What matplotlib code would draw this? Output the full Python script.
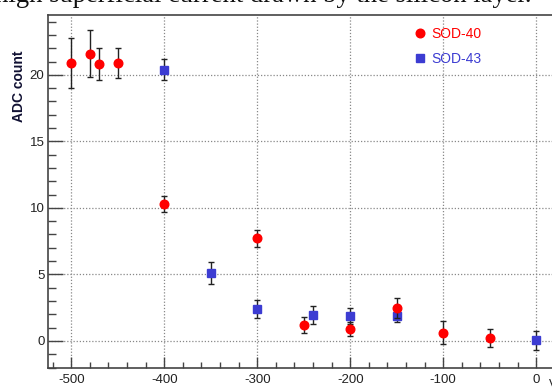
import matplotlib
matplotlib.use('Agg')
from matplotlib import pyplot as plt
from matplotlib.lines import Line2D
from matplotlib.ticker import MultipleLocator

plt.rcParams['font.family'] = ['Liberation Sans', 'DejaVu Sans']
plt.rcParams['axes.unicode_minus'] = False

# SOD-40 (red circles)
sod40_x = [-500, -480, -470, -450, -400, -300, -250, -200, -150, -100, -50]
sod40_y = [20.9, 21.6, 20.8, 20.9, 10.3, 7.7, 1.2, 0.9, 2.5, 0.6, 0.2]
sod40_err = [1.9, 1.75, 1.2, 1.15, 0.62, 0.67, 0.58, 0.5, 0.75, 0.87, 0.68]

# SOD-43 (blue squares)
sod43_x = [-400, -350, -300, -240, -200, -150, 0]
sod43_y = [20.4, 5.1, 2.4, 1.95, 1.9, 1.9, 0.05]
sod43_err = [0.76, 0.8, 0.68, 0.7, 0.6, 0.45, 0.7]

red = '#ff0000'
blue = '#3c3cd2'

W, H = 552, 392
fig = plt.figure(figsize=(W / 100, H / 100), dpi=100)

# axes placed in pixel units; right edge runs past the picture (cropped)
x0, x1 = -525, 30
y0, y1 = -2.0, 24.5
left_px, bottom_px = 48, 24.5
w_px = (x1 - x0) * 0.93
h_px = (y1 - y0) * 13.3
ax = fig.add_axes([left_px / W, bottom_px / H, w_px / W, h_px / H])

ax.errorbar(sod43_x, sod43_y, yerr=sod43_err, fmt='s', color=blue, ms=5.8,
            ecolor='#222222', elinewidth=1, capsize=2.5, capthick=1, zorder=3)
ax.errorbar(sod40_x, sod40_y, yerr=sod40_err, fmt='o', color=red, ms=6.2,
            ecolor='#222222', elinewidth=1, capsize=2.5, capthick=1, zorder=4)

ax.set_xlim(x0, x1)
ax.set_ylim(y0, y1)
ax.xaxis.set_major_locator(MultipleLocator(100))
ax.xaxis.set_minor_locator(MultipleLocator(20))
ax.yaxis.set_major_locator(MultipleLocator(5))
ax.yaxis.set_minor_locator(MultipleLocator(1))

ax.grid(True, which='major', color='#888888', linestyle=(0, (1, 1.5)), linewidth=0.9)
ax.set_axisbelow(True)

ax.tick_params(axis='x', which='major', direction='in', length=8, width=1,
               color='#444444', labelsize=9.5, labelcolor='#222222', pad=5)
ax.tick_params(axis='x', which='minor', direction='in', length=4, width=1, color='#444444')
ax.tick_params(axis='y', which='major', direction='in', length=10.5, width=1,
               color='#444444', labelsize=9.5, labelcolor='#222222', pad=2.5)
ax.tick_params(axis='y', which='minor', direction='in', length=5.5, width=1, color='#444444')
for s in ax.spines.values():
    s.set_color('#444444')
    s.set_linewidth(1.2)

fig.text(19 / W, 1 - 86 / H, 'ADC count', rotation=90, ha='center', va='center',
         fontsize=10, fontweight='bold', color='#111133')

handles = [Line2D([], [], marker='o', color=red, linestyle='none', ms=6.2),
           Line2D([], [], marker='s', color=blue, linestyle='none', ms=5.8)]
leg = ax.legend(handles, ['SOD-40', 'SOD-43'], loc='upper left',
                bbox_to_anchor=((410 - left_px) / w_px, (H - 21 - bottom_px) / h_px),
                frameon=False, fontsize=10, handlelength=0.6, handletextpad=0.5,
                labelspacing=0.8, borderaxespad=0)
leg.get_texts()[0].set_color(red)
leg.get_texts()[1].set_color(blue)

# cropped text from the surrounding page
fig.text(-5 / W, 1 - 1.5 / H, 'high superficial current drawn by the silicon layer.',
         family=['Liberation Serif'], fontsize=19.2, ha='left', va='baseline', color='#111111')
fig.text(549 / W, 1 - 388 / H, 'V', fontsize=9, ha='left', va='baseline', color='#222222')

fig.savefig('out.png', dpi=100)
